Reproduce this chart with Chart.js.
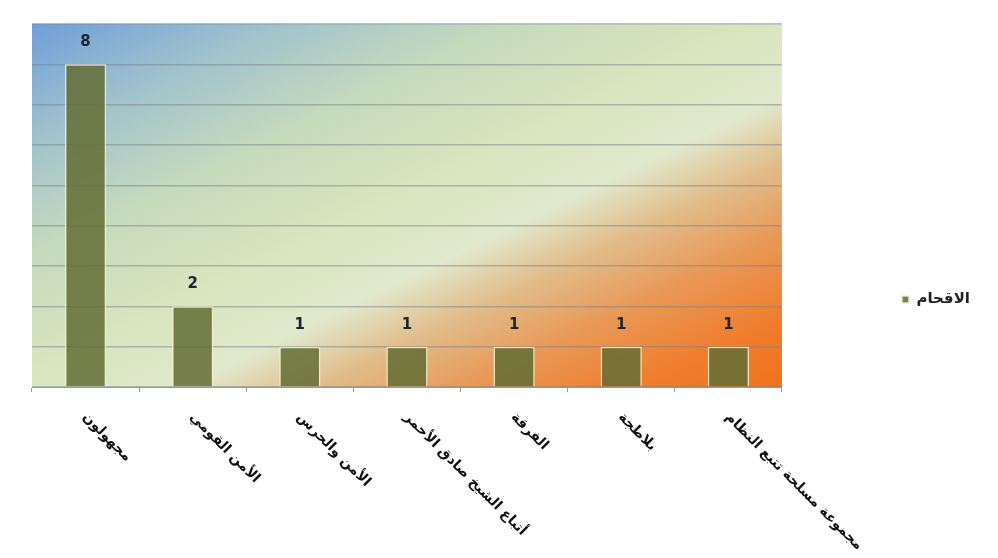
<!DOCTYPE html>
<html>
<head>
<meta charset="utf-8">
<script src="https://cdn.jsdelivr.net/npm/chart.js@4.4.0/dist/chart.umd.min.js"></script>
<style>
  html, body { margin: 0; padding: 0; background: #ffffff; }
  #wrap { width: 998px; height: 558px; position: relative; }
</style>
</head>
<body>
<div id="wrap"><canvas id="c" width="998" height="558"></canvas></div>
<script>
// Categories (Arabic labels) and counts
const categories = [
  'مجهولون',
  'الأمن القومي',
  'الأمن والحرس',
  'أتباع الشيخ صادق الأحمر',
  'الفرقة',
  'بلاطجة',
  'مجموعة مسلحة تتبع النظام'
];
const counts = [8, 2, 1, 1, 1, 1, 1];
const seriesName = 'الاقحام';
const yTicks = [0, 1, 2, 3, 4, 5, 6, 7, 8, 9];

const FONT = '"DejaVu Sans", "Noto Sans", sans-serif';

// Diagonal blue → pale green → orange fill behind the plot
const plotBackground = {
  id: 'plotBackground',
  beforeDraw(chart) {
    const { ctx, chartArea: a } = chart;
    const dx = 0.4363, dy = 0.8998;
    const len = (a.right - a.left) * dx + (a.bottom - a.top) * dy;
    const g = ctx.createLinearGradient(a.left, a.top, a.left + len * dx, a.top + len * dy);
    g.addColorStop(0.00, 'rgb(112,158,216)');
    g.addColorStop(0.16, 'rgb(160,194,205)');
    g.addColorStop(0.32, 'rgb(198,218,188)');
    g.addColorStop(0.48, 'rgb(216,229,190)');
    g.addColorStop(0.60, 'rgb(225,233,205)');
    g.addColorStop(0.69, 'rgb(225,188,138)');
    g.addColorStop(0.79, 'rgb(233,152,86)');
    g.addColorStop(0.90, 'rgb(239,126,46)');
    g.addColorStop(1.00, 'rgb(241,114,28)');
    ctx.save();
    ctx.fillStyle = g;
    ctx.fillRect(a.left, a.top, a.right - a.left, a.bottom - a.top);
    ctx.restore();
  }
};

// Value printed above each bar
const valueLabels = {
  id: 'valueLabels',
  afterDatasetsDraw(chart) {
    const { ctx } = chart;
    const meta = chart.getDatasetMeta(0);
    ctx.save();
    ctx.font = 'bold 15px ' + FONT;
    ctx.fillStyle = '#1d2535';
    ctx.textAlign = 'center';
    ctx.textBaseline = 'middle';
    meta.data.forEach((bar, i) => {
      ctx.fillText(String(counts[i]), bar.x, bar.y - 22);
    });
    ctx.restore();
  }
};

// Category names slanted downward under the axis
const slantedLabels = {
  id: 'slantedLabels',
  afterDraw(chart) {
    const { ctx } = chart;
    const xs = chart.scales.x;
    ctx.save();
    ctx.font = 'bold 14px ' + FONT;
    ctx.fillStyle = '#111111';
    ctx.textAlign = 'left';
    ctx.textBaseline = 'middle';
    categories.forEach((lab, i) => {
      const x = xs.getPixelForValue(i);
      ctx.save();
      ctx.translate(x - 1, xs.top + 28);
      ctx.rotate(Math.PI / 4);
      ctx.fillText(lab, 0, 0);
      ctx.restore();
    });
    ctx.restore();
  }
};

new Chart(document.getElementById('c'), {
  type: 'bar',
  data: {
    labels: categories,
    datasets: [{
      label: seriesName,
      data: counts,
      backgroundColor: 'rgba(100,110,52,0.86)',
      borderColor: 'rgba(245,236,205,0.9)',
      borderWidth: 1.5,
      barPercentage: 0.385,
      categoryPercentage: 1
    }]
  },
  options: {
    responsive: false,
    animation: false,
    layout: { padding: { left: 32, top: 24, right: 18, bottom: 131 } },
    plugins: {
      tooltip: { enabled: false },
      legend: {
        position: 'right',
        align: 'end',
        labels: {
          padding: 120,
          boxWidth: 7,
          boxHeight: 7,
          color: '#222222',
          font: { family: FONT, size: 15, weight: 'bold' }
        }
      }
    },
    scales: {
      x: {
        offset: true,
        grid: { display: true, drawOnChartArea: false, drawTicks: true, tickLength: 5, color: '#9a9a9a', offset: true },
        border: { display: true, color: '#9a9a9a', width: 1 },
        ticks: { display: false },
        afterFit(s) { s.height = 40; }
      },
      y: {
        min: yTicks[0],
        max: yTicks[yTicks.length - 1],
        afterBuildTicks(s) { s.ticks = yTicks.map(v => ({ value: v })); },
        ticks: { display: false },
        grid: { color: 'rgba(120,130,140,0.5)', lineWidth: 1.5, drawTicks: false },
        border: { display: false },
        afterFit(s) { s.width = 0; }
      }
    }
  },
  plugins: [plotBackground, valueLabels, slantedLabels]
});
</script>
</body>
</html>
